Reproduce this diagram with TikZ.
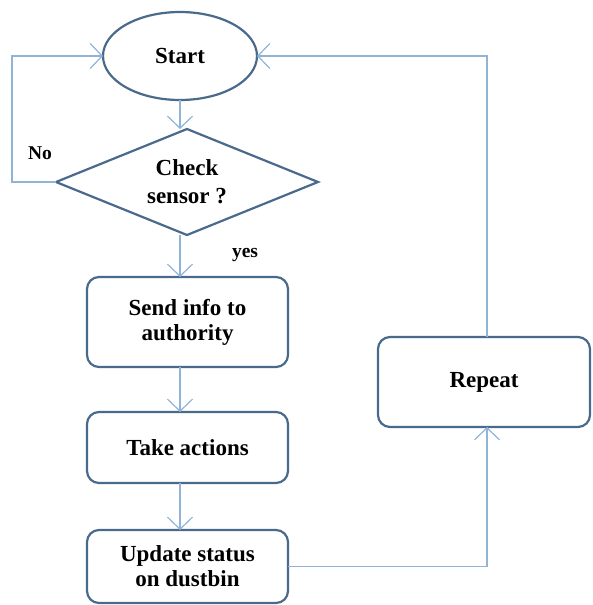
\documentclass[tikz,border=0pt]{standalone}
\usepackage{fontspec}
\setmainfont{Liberation Serif}
\usetikzlibrary{shapes.geometric,arrows.meta}
\definecolor{shapeblue}{HTML}{4A6A8C}
\definecolor{linkblue}{HTML}{8FB4D8}
\tikzset{
  shapeline/.style={draw=shapeblue, line width=2.2pt, fill=white, outer sep=0pt,
    font=\fontsize{23}{25}\selectfont\bfseries, align=center},
  stepbox/.style={shapeline, rectangle, rounded corners=12pt, minimum width=201pt},
  conn/.style={draw=linkblue, line width=1.2pt, -{Straight Barb[length=12pt,width=25pt,line width=1.2pt]}},
  lbl/.style={font=\fontsize{19.5}{22}\selectfont\bfseries}
}
\begin{document}
\begin{tikzpicture}[x=1pt,y=-1pt]
\useasboundingbox (0,0) rectangle (592,605);
\node[shapeline, ellipse, minimum width=154pt, minimum height=88pt, inner sep=0pt] (start) at (180,56) {Start};
\node[shapeline, diamond, aspect=2.47, minimum width=262pt, minimum height=106pt, inner sep=0pt] (check) at (187,182) {Check\\[3pt]sensor ?};
\node[stepbox, minimum height=90pt] (send) at (187.5,322) {Send info to\\authority};
\node[stepbox, minimum height=71pt] (take) at (187.5,447.5) {Take actions};
\node[stepbox, minimum height=73pt] (update) at (187.5,566.5) {Update status\\on dustbin};
\node[stepbox, minimum width=212pt, minimum height=90pt] (repeat) at (484,382) {Repeat};
\coordinate (leftx) at (12,0);
\coordinate (rightx) at (487,0);
\node[lbl] (no) at (40,153) {No};
\node[lbl] (yes) at (245,255) {yes};
% connectors
\draw[conn] (start.south) -- (start.south |- check.north);
\draw[conn] (check.south -| start.south) -- (send.north -| start.south);
\draw[conn] (send.south -| start.south) -- (take.north -| start.south);
\draw[conn] (take.south -| start.south) -- (update.north -| start.south);
\draw[conn] (check.west) -- (check.west -| leftx) |- (start.west);
\draw[conn] (update.east) -- (update.east -| rightx) -- (repeat.south -| rightx);
\draw[conn] (repeat.north -| rightx) |- (start.east);
\end{tikzpicture}
\end{document}
